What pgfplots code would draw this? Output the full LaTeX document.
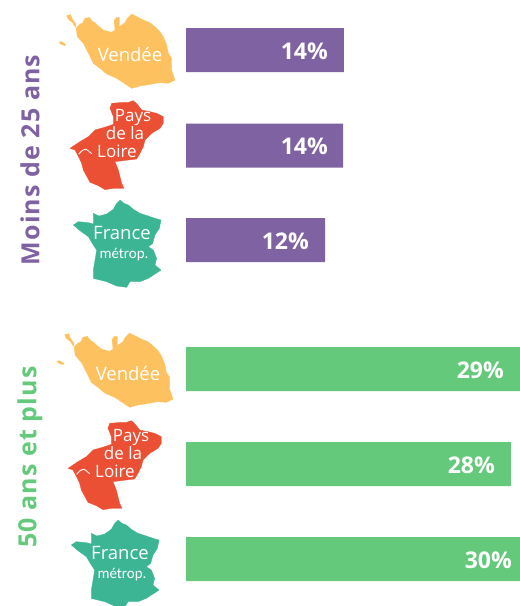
\documentclass[border=0pt]{standalone}
\usepackage{fontspec}
\setmainfont{Open Sans}
\newfontfamily\narrow{Carlito}
\newfontfamily\spaced[LetterSpace=4.5]{Open Sans}
\usepackage{pgfplots}
\usepackage{pgfplotstable}
\pgfplotsset{compat=1.18}

\definecolor{violet}{HTML}{7F62A1}
\definecolor{vert}{HTML}{64C97B}
\definecolor{jaune}{HTML}{FDC25F}
\definecolor{rouge}{HTML}{EB5035}
\definecolor{teal2}{HTML}{3BB593}

% outlines, in coordinates of 3x crops
\pgfplotstableread{
x y
228 85
240 72
247 70
255 55
268 52
275 62
285 68
295 78
310 90
335 97
345 90
342 62
350 52
358 52
358 80
375 68
382 55
395 42
410 50
430 60
450 68
470 85
480 95
490 110
500 135
505 160
515 175
515 210
525 240
505 250
480 248
440 255
420 258
395 265
380 255
350 235
320 222
300 205
280 190
268 165
250 130
232 110
228 85
}\vendee
\pgfplotstableread{
x y
200 47
212 44
216 55
220 62
228 72
226 82
218 68
205 58
200 47
}\noirmoutier
\pgfplotstableread{
x y
177 127
185 125
197 133
195 137
183 133
177 127
}\yeu
\pgfplotstableread{
x y
335 25
370 22
385 22
400 17
412 28
425 45
450 50
470 55
490 65
490 85
480 100
455 115
435 135
430 155
420 175
410 192
385 195
345 200
355 225
365 265
372 280
340 280
315 284
295 272
270 262
250 225
245 205
238 190
225 165
210 160
225 150
240 140
265 125
285 105
320 95
340 88
340 65
330 40
335 25
}\pdl
\pgfplotstableread{
x y
236 178
245 168
258 163
275 176
}\estuaire
\pgfplotstableread{
x y
360 0
372 10
385 15
400 28
420 40
445 48
465 55
483 60
478 85
465 105
458 130
445 140
460 150
470 175
465 195
483 210
465 222
445 235
420 245
390 245
380 262
350 258
320 245
280 235
280 210
285 180
290 150
280 135
265 110
240 92
220 75
235 65
265 68
280 72
280 40
297 48
320 42
340 28
350 10
360 0
}\france

\newcommand{\shape}[4]{\addplot[fill=#2,draw=#2,line width=0.3pt] table[x expr=\thisrow{x}/3+#3,y expr=\thisrow{y}/3+#4] {#1};}

\begin{document}
\begin{tikzpicture}
\useasboundingbox (0,0) rectangle (520pt,606pt);
\pgfplotsset{every axis/.append style={
  at={(0,0)},anchor=south west,scale only axis,width=520pt,height=606pt,
  hide axis,y dir=reverse,ymin=0,ymax=606}}
% bars: x in percent, y in pixels of the picture
\begin{axis}[xbar,bar width=44pt,bar shift=0pt,xmin=-16.034,xmax=28.793]
\addplot[fill=violet,draw=none] coordinates {(13.6,50) (13.55,145.5) (12,240)};
\addplot[fill=vert,draw=none] coordinates {(29,369) (28,464) (30,559)};
\end{axis}
% maps and text, in pixels of the picture
\begin{axis}[xmin=0,xmax=520]
\shape{\vendee}{jaune}{0}{0}
\shape{\noirmoutier}{jaune}{0}{0}
\shape{\yeu}{jaune}{0}{0}
\shape{\pdl}{rouge}{0}{95}
\addplot[white,line width=0.9pt,smooth] table[x expr=\thisrow{x}/3,y expr=\thisrow{y}/3+95] {\estuaire};
\shape{\france}{teal2}{0}{200}
\shape{\vendee}{jaune}{-2}{319}
\shape{\noirmoutier}{jaune}{-2}{319}
\shape{\yeu}{jaune}{-2}{319}
\shape{\pdl}{rouge}{-2}{415}
\addplot[white,line width=0.9pt,smooth] table[x expr=\thisrow{x}/3-2,y expr=\thisrow{y}/3+415] {\estuaire};
\shape{\france}{teal2}{-2}{520}

\tikzset{
  lab/.style={text=white,font=\fontsize{18.5}{18.5}\selectfont,inner sep=0pt},
  pay/.style={text=white,font=\fontsize{17}{17}\selectfont,inner sep=0pt},
  met/.style={text=white,font=\narrow\fontsize{15}{15}\selectfont,inner sep=0pt},
  pct/.style={text=white,font=\fontsize{23}{23}\selectfont\bfseries,inner sep=0pt,anchor=east}}
\node[lab] at (axis cs:130,54) {Vendée};
\node[lab] at (axis cs:128,373) {Vendée};
\node[pay] at (axis cs:133,117) {Pays};
\node[pay] at (axis cs:125,133.5) {de la};
\node[pay] at (axis cs:117,151) {Loire};
\node[lab] at (axis cs:122,233) {France};
\node[met] at (axis cs:124,255) {métrop.};
\node[pay] at (axis cs:131,437) {Pays};
\node[pay] at (axis cs:123,453.5) {de la};
\node[pay] at (axis cs:115,471) {Loire};
\node[lab] at (axis cs:120,553) {France};
\node[met] at (axis cs:122,575) {métrop.};
\node[pct] at (axis cs:328,51) {14\%};
\node[pct] at (axis cs:328,146) {14\%};
\node[pct] at (axis cs:309,241) {12\%};
\node[pct] at (axis cs:504,370) {29\%};
\node[pct] at (axis cs:495,465) {28\%};
\node[pct] at (axis cs:512,560) {30\%};
\node[rotate=90,text=violet,inner sep=0pt,font=\spaced\fontsize{25}{25}\selectfont\bfseries] at (axis cs:30,160) {Moins de 25 ans};
\node[rotate=90,text=vert,inner sep=0pt,font=\spaced\fontsize{25}{25}\selectfont\bfseries] at (axis cs:30,457) {50 ans et plus};
\end{axis}
\end{tikzpicture}
\end{document}
